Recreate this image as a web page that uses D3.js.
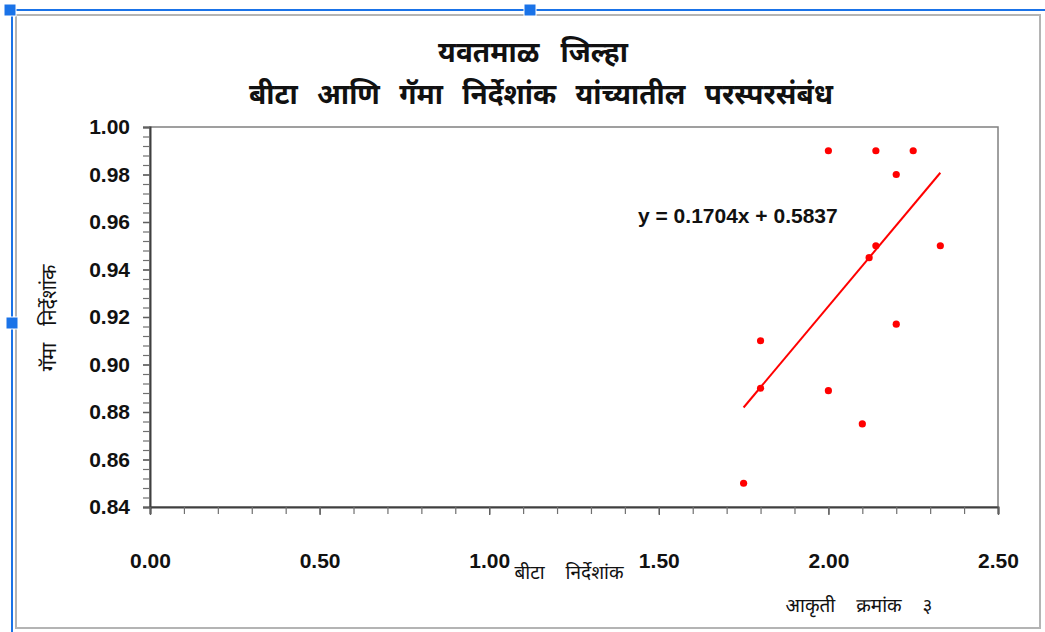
<!DOCTYPE html>
<html>
<head>
<meta charset="utf-8">
<script src="https://cdn.jsdelivr.net/npm/d3@7"></script>
<style>
  html, body { margin: 0; padding: 0; background: #ffffff; }
  svg { display: block; }
  .num { font-family: "Liberation Sans", Arial, sans-serif; font-weight: bold; }
  .dev { font-family: "Noto Sans Devanagari", "Lohit Devanagari", "Mangal", "Noto Sans", sans-serif; }
</style>
</head>
<body>
<svg id="chart" width="1045" height="632"></svg>
<script>
// ---- data ----
const titleLines = ["यवतमाळ जिल्हा", "बीटा आणि गॅमा निर्देशांक यांच्यातील परस्परसंबंध"];
const xLabel = "बीटा निर्देशांक";
const yLabel = "गॅमा निर्देशांक";
const caption = "आकृती क्रमांक ३";
const betaIndex  = [1.75, 1.80, 1.80, 2.00, 2.00, 2.10, 2.12, 2.14, 2.14, 2.20, 2.20, 2.25, 2.33];
const gammaIndex = [0.850, 0.910, 0.890, 0.990, 0.889, 0.875, 0.945, 0.990, 0.950, 0.980, 0.917, 0.990, 0.950];
const trendSlope = 0.1704;
const trendIntercept = 0.5837;
const equationText = "y = 0.1704x + 0.5837";
const xTicks = [0, 0.5, 1.0, 1.5, 2.0, 2.5];
const yTicks = [0.84, 0.86, 0.88, 0.90, 0.92, 0.94, 0.96, 0.98, 1.00];

// ---- layout ----
const svg = d3.select("#chart");
const plot = { left: 150, right: 998, top: 127, bottom: 507 };

// editor-like frame decoration
svg.append("rect").attr("x", 16).attr("y", 15).attr("width", 1024).attr("height", 613)
  .attr("fill", "#ffffff").attr("stroke", "#b4b4b4").attr("stroke-width", 2);
svg.append("line").attr("x1", 12).attr("x2", 1045).attr("y1", 10).attr("y2", 10)
  .attr("stroke", "#1a73e8").attr("stroke-width", 2);
svg.append("line").attr("x1", 12).attr("x2", 12).attr("y1", 10).attr("y2", 632)
  .attr("stroke", "#1a73e8").attr("stroke-width", 2);
[[10, 10], [530, 10], [12, 323]].forEach(([cx, cy]) => {
  svg.append("rect").attr("x", cx - 6).attr("y", cy - 6).attr("width", 12).attr("height", 12)
    .attr("fill", "#1a73e8").attr("stroke", "#ffffff").attr("stroke-width", 1);
});

const x = d3.scaleLinear().domain([0, 2.5]).range([plot.left, plot.right]);
const y = d3.scaleLinear().domain([0.84, 1.00]).range([plot.bottom, plot.top]);

// plot border
svg.append("rect").attr("x", plot.left).attr("y", plot.top)
  .attr("width", plot.right - plot.left).attr("height", plot.bottom - plot.top)
  .attr("fill", "#ffffff").attr("stroke", "#808080").attr("stroke-width", 1.5);

// minor ticks
const xMinor = d3.range(0, 2.5001, 0.1);
const yMinor = d3.range(0.84, 1.0001, 0.004);
const xAxisMinor = d3.axisBottom(x).tickValues(xMinor).tickSize(7).tickFormat("");
const yAxisMinor = d3.axisLeft(y).tickValues(yMinor).tickSize(7).tickFormat("");
const gxm = svg.append("g").attr("transform", `translate(0,${plot.bottom})`).call(xAxisMinor);
const gym = svg.append("g").attr("transform", `translate(${plot.left},0)`).call(yAxisMinor);
[gxm, gym].forEach(g => {
  g.select(".domain").attr("stroke", "#404040").attr("stroke-width", 2);
  g.selectAll(".tick line").attr("stroke", "#707070").attr("stroke-width", 1.2);
});

// major tick labels
const xAxis = d3.axisBottom(x).tickValues(xTicks).tickSize(8).tickPadding(38).tickFormat(d3.format(".2f"));
const yAxis = d3.axisLeft(y).tickValues(yTicks).tickSize(7).tickPadding(13).tickFormat(d3.format(".2f"));
const gx = svg.append("g").attr("transform", `translate(0,${plot.bottom})`).call(xAxis);
const gy = svg.append("g").attr("transform", `translate(${plot.left},0)`).call(yAxis);
[gx, gy].forEach(g => {
  g.select(".domain").remove();
  g.selectAll(".tick line").attr("stroke", "#606060").attr("stroke-width", 1.4);
  g.selectAll(".tick text").attr("class", "num").attr("font-size", 21).attr("fill", "#111");
});

// trendline
const xMin = d3.min(betaIndex), xMax = d3.max(betaIndex);
svg.append("line")
  .attr("x1", x(xMin)).attr("y1", y(trendSlope * xMin + trendIntercept))
  .attr("x2", x(xMax)).attr("y2", y(trendSlope * xMax + trendIntercept))
  .attr("stroke", "#ff0000").attr("stroke-width", 2);

// points
svg.append("g").selectAll("circle").data(betaIndex.map((b, i) => [b, gammaIndex[i]]))
  .join("circle")
  .attr("cx", d => x(d[0])).attr("cy", d => y(d[1])).attr("r", 3.6)
  .attr("fill", "#ff0000");

// equation
svg.append("text").attr("class", "num").attr("x", 638).attr("y", 223)
  .attr("font-size", 21).attr("fill", "#111").text(equationText);

// titles
svg.append("text").attr("class", "dev").attr("x", 533).attr("y", 62)
  .attr("text-anchor", "middle").attr("font-size", 28).attr("font-weight", "bold")
  .attr("word-spacing", 14).attr("fill", "#111").text(titleLines[0]);
svg.append("text").attr("class", "dev").attr("x", 541).attr("y", 104)
  .attr("text-anchor", "middle").attr("font-size", 28).attr("font-weight", "bold")
  .attr("word-spacing", 12).attr("fill", "#111").text(titleLines[1]);

// axis titles
svg.append("text").attr("class", "dev").attr("x", 569).attr("y", 579)
  .attr("text-anchor", "middle").attr("font-size", 19).attr("word-spacing", 16)
  .attr("fill", "#111").text(xLabel);
svg.append("text").attr("class", "dev")
  .attr("transform", "translate(56,318) rotate(-90)")
  .attr("text-anchor", "middle").attr("font-size", 20).attr("word-spacing", 12)
  .attr("fill", "#111").text(yLabel);
svg.append("text").attr("class", "dev").attr("x", 859).attr("y", 612)
  .attr("text-anchor", "middle").attr("font-size", 19).attr("word-spacing", 16)
  .attr("fill", "#111").text(caption);
</script>
</body>
</html>
